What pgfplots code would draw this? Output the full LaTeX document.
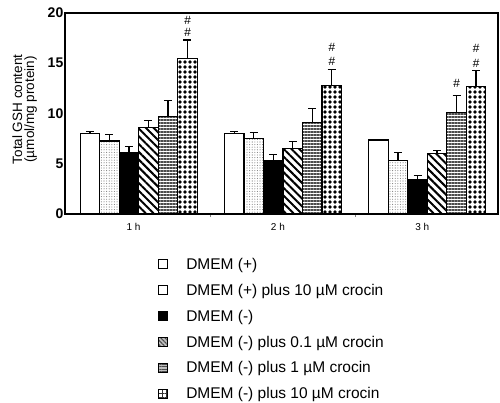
\documentclass[border=0pt]{standalone}
\usepackage{fontspec}
\setmainfont{Liberation Sans}
\usepackage{pgfplots}
\pgfplotsset{compat=1.18}
\usetikzlibrary{patterns.meta}
\tikzset{
  pat2/.style={postaction={pattern={Dots[distance=2.6pt, radius=0.55pt]}, pattern color=black!50}},
  pat4/.style={postaction={pattern={Lines[angle=-45, distance=5.5pt, line width=2pt]}, pattern color=black}},
  pat5/.style={postaction={pattern={Lines[angle=0, distance=3pt, line width=1.3pt]}, pattern color=black!70}},
  pat6/.style={postaction={pattern={Dots[distance=5pt, radius=1.8pt]}, pattern color=black}},
}
\begin{document}
\begin{tikzpicture}
\path[use as bounding box] (0,0) rectangle (500pt,402pt);
\begin{axis}[
  at={(65pt,188pt)}, anchor=south west,
  scale only axis, width=433pt, height=201pt,
  xmin=-0.51, xmax=2.49, ymin=0, ymax=20,
  ybar=0pt, bar width=19.5pt,
  axis line style={line width=1.3pt},
  xtick={0,1,2}, xticklabels={1 h,2 h,3 h},
  xticklabel style={font=\fontsize{10}{11}\selectfont, xshift=-5pt},
  major x tick style={draw=none},
  minor xtick={0.5,1.5}, minor tick length=3pt,
  minor x tick style={line width=0.8pt},
  x tick label style={yshift=-1pt},
  ytick={0,5,10,15,20},
  major y tick style={draw=none},
  yticklabel style={font=\fontsize{14}{15}\selectfont\bfseries, inner sep=1.5pt},
  /pgf/number format/assume math mode=true,
  tick pos=left,
  ylabel={Total GSH content\\(\textmu mol/mg protein)},
  ylabel style={font=\fontsize{13.5}{12}\selectfont, align=center, at={(axis description cs:-0.093,0.52)}, anchor=center},
  error bars/y dir=plus, error bars/y explicit,
  error bars/error bar style={line width=1.3pt},
  error bars/error mark options={rotate=90, mark size=4pt, line width=1.3pt},
  every axis plot/.append style={draw=black, line width=1.2pt},
  legend style={at={(axis description cs:0.208,-0.203)}, anchor=north west, draw=none,
    font=\fontsize{15.5}{17}\selectfont, row sep=11.2pt, nodes={inner sep=1pt},
    cells={anchor=west}},
  legend cell align=left,
  legend image code/.code={\draw[#1, line width=1pt] (0pt,-4.5pt) rectangle (9pt,4.5pt);},
]
\addplot[forget plot, bar shift=-48.75pt, fill=white] coordinates {(0,8.0) +- (0,0.2) (1,8.0) +- (0,0.2) (2,7.36) +- (0,0.05)};
\addplot[forget plot, bar shift=-29.25pt, fill=white, pat2]
  coordinates {(0,7.26) +- (0,0.64) (1,7.5) +- (0,0.6) (2,5.3) +- (0,0.8)};
\addplot[forget plot, bar shift=-9.75pt, fill=black] coordinates {(0,6.1) +- (0,0.6) (1,5.3) +- (0,0.6) (2,3.4) +- (0,0.4)};
\addplot[forget plot, bar shift=9.75pt, fill=white, pat4]
  coordinates {(0,8.6) +- (0,0.7) (1,6.5) +- (0,0.7) (2,6.0) +- (0,0.3)};
\addplot[forget plot, bar shift=29.25pt, fill=white, pat5]
  coordinates {(0,9.7) +- (0,1.6) (1,9.1) +- (0,1.4) (2,10.1) +- (0,1.7)};
\addplot[forget plot, bar shift=48.75pt, fill=white, pat6]
  coordinates {(0,15.5) +- (0,1.8) (1,12.8) +- (0,1.6) (2,12.7) +- (0,1.6)};
\addlegendimage{draw=black, fill=white}
\addlegendentry{\hspace*{17pt}DMEM (+)}
\addlegendimage{draw=black, fill=white}
\addlegendentry{\hspace*{17pt}DMEM (+) plus 10 \textmu M crocin}
\addlegendimage{draw=black, fill=black}
\addlegendentry{\hspace*{17pt}DMEM (-)}
\addlegendimage{draw=black, fill=black!25, postaction={pattern={Lines[angle=-45, distance=3pt, line width=1pt]}, pattern color=black!70}}
\addlegendentry{\hspace*{17pt}DMEM (-) plus 0.1 \textmu M crocin}
\addlegendimage{draw=black, fill=black!25, postaction={pattern={Lines[angle=0, distance=2.2pt, line width=0.9pt]}, pattern color=black!70}}
\addlegendentry{\hspace*{17pt}DMEM (-) plus 1 \textmu M crocin}
\addlegendimage{draw=black, fill=white, postaction={pattern={Hatch[angle=0, distance=4.5pt, line width=1pt]}, pattern color=black!80}}
\addlegendentry{\hspace*{17pt}DMEM (-) plus 10 \textmu M crocin}
\begin{scope}[every node/.style={font=\fontsize{12}{12}\selectfont\itshape, inner sep=0pt}]
\node at (axis cs:0,19.3) [xshift=48.75pt] {\#};
\node at (axis cs:0,18.1) [xshift=48.75pt] {\#};
\node at (axis cs:1,16.6) [xshift=48.75pt] {\#};
\node at (axis cs:1,15.2) [xshift=48.75pt] {\#};
\node at (axis cs:2,13.0) [xshift=29.25pt] {\#};
\node at (axis cs:2,16.5) [xshift=48.75pt] {\#};
\node at (axis cs:2,15.0) [xshift=48.75pt] {\#};
\end{scope}
\end{axis}
\end{tikzpicture}
\end{document}
